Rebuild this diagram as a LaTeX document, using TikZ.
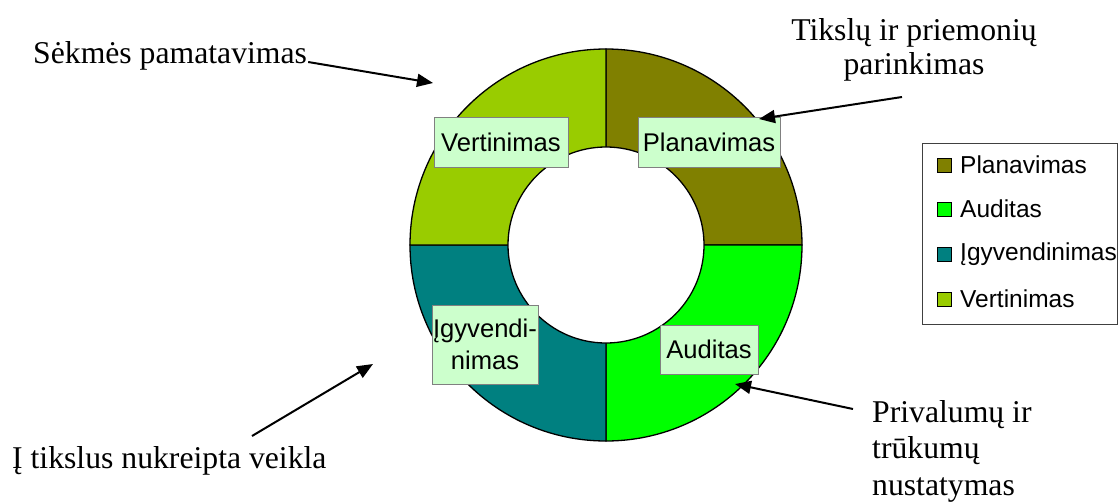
\documentclass[tikz,border=0pt]{standalone}
\usepackage{fontspec}
\setmainfont{Liberation Serif}
\newfontfamily\arialf{Liberation Sans}
\usetikzlibrary{arrows.meta}
\definecolor{cplan}{HTML}{808000}
\definecolor{caud}{HTML}{00FF00}
\definecolor{cigy}{HTML}{008080}
\definecolor{cver}{HTML}{99CC00}
\definecolor{lblfill}{HTML}{CCFFCC}
\definecolor{lblline}{HTML}{808080}
\begin{document}
\begin{tikzpicture}[x=1pt,y=-1pt,
 serif/.style={font=\fontsize{31.7}{36}\selectfont, inner sep=0pt},
 lblbox/.style={draw=lblline, line width=1pt, fill=lblfill, font=\arialf\fontsize{25.6}{32}\selectfont, inner sep=0pt, align=center},
 arr/.style={line width=2pt, -{Triangle[length=16pt,width=13pt]}},
 sector/.style={draw=black, line width=1.3pt},
 legsq/.style={draw=black, line width=1pt, minimum size=14pt, inner sep=0pt},
 legtxt/.style={font=\arialf\fontsize{24.5}{28}\selectfont, anchor=west, inner sep=0pt}]
\useasboundingbox (0,0) rectangle (1119,501);
\coordinate (c) at (606,245);
% donut sectors
\filldraw[sector, fill=cplan] (c) -- ++(0:196) arc[start angle=0, end angle=-90, radius=196] -- cycle;
\filldraw[sector, fill=caud] (c) -- ++(0:196) arc[start angle=0, end angle=90, radius=196] -- cycle;
\filldraw[sector, fill=cigy] (c) -- ++(90:196) arc[start angle=90, end angle=180, radius=196] -- cycle;
\filldraw[sector, fill=cver] (c) -- ++(180:196) arc[start angle=180, end angle=270, radius=196] -- cycle;
\filldraw[sector, fill=white] (c) circle[radius=98];
% labels on the ring
\node[lblbox, minimum width=134pt, minimum height=50pt] (ver) at (501,142) {Vertinimas};
\node[lblbox, minimum width=142pt, minimum height=50pt] (plan) at (709,142) {Planavimas};
\node[lblbox, minimum width=106pt, minimum height=79pt] (igy) at (485,344.5) {Įgyvendi-\\nimas};
\node[lblbox, minimum width=98pt, minimum height=49pt] (aud) at (709,349.5) {Auditas};
% legend
\node[draw=black!75, line width=1pt, minimum width=195pt, minimum height=181pt, inner sep=0pt] (legend) at (1019.5,233.5) {};
\node[legsq, fill=cplan] (l1) at (944,165) {};
\node[legsq, fill=caud] (l2) at (944,209) {};
\node[legsq, fill=cigy] (l3) at (944,254) {};
\node[legsq, fill=cver] (l4) at (944,299) {};
\node[legtxt] (t1) at (960,165) {Planavimas};
\node[legtxt] (t2) at (960,209) {Auditas};
\node[legtxt] (t3) at (960,254) {Įgyvendinimas};
\node[legtxt] (t4) at (960,299) {Vertinimas};
% outer texts
\node[serif, anchor=base west] (sek) at (33,63) {Sėkmės pamatavimas};
\node[serif, anchor=base, align=center, font=\fontsize{31.7}{34}\selectfont] (tik) at (914,74) {Tikslų ir priemonių\\parinkimas};
\node[serif, anchor=base west] (itik) at (12,468) {Į tikslus nukreipta veikla};
\node[serif, anchor=base west, align=left, font=\fontsize{31.7}{36.5}\selectfont] (priv) at (872,495) {Privalumų ir\\trūkumų\\nustatymas};
% arrow ends
\coordinate (e1) at (433,83);
\coordinate (s2) at (902,97);
\coordinate (e2) at (759,119);
\coordinate (s3) at (252,436);
\coordinate (e3) at (373,364);
\coordinate (s4) at (853,409);
\coordinate (e4) at (735,384);
\draw[arr] ([xshift=1pt,yshift=1pt]sek.base east) -- (e1);
\draw[arr] (s2) -- (e2);
\draw[arr] (s3) -- (e3);
\draw[arr] (s4) -- (e4);
\end{tikzpicture}
\end{document}
